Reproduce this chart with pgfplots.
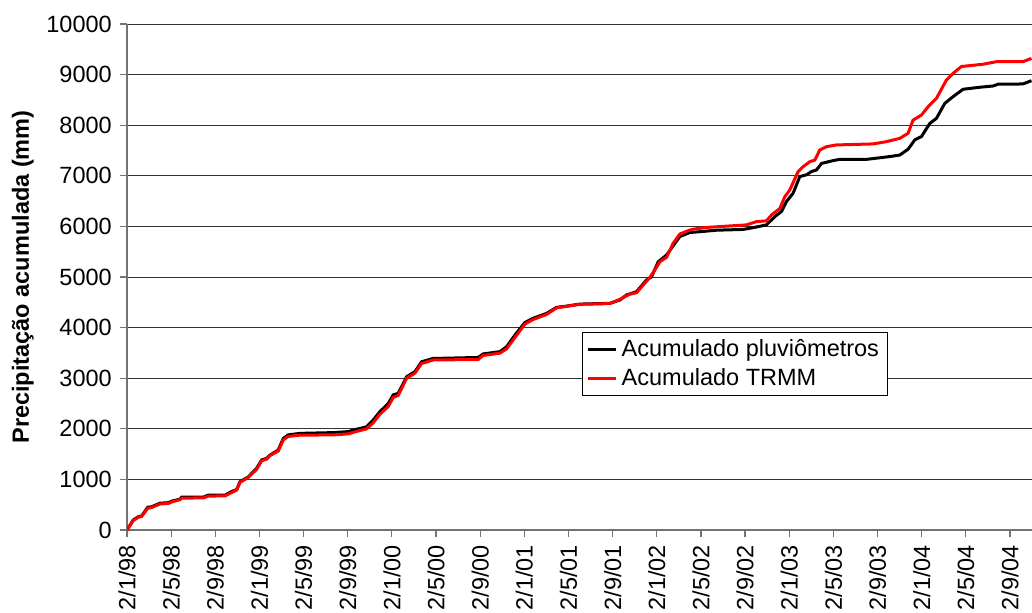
\documentclass[border=0pt]{standalone}
\usepackage{fontspec}
\setmainfont{Liberation Sans}
\usepackage{pgfplots}
\pgfplotsset{compat=1.18}
\usepackage{pgfplotstable}

% x = months since 2/1/98, y = accumulated rainfall (mm)
\pgfplotstableread{
m     v
0.00  0
0.57  200
1.02  260
1.33  280
1.88  450
2.24  460
2.99  530
3.74  540
4.05  570
4.80  610
4.95  650
6.91  650
7.36  690
8.88  690
9.48  760
9.94  800
10.24 955
10.99 1050
11.75 1220
12.20 1385
12.65 1415
12.95 1480
13.70 1580
14.16 1810
14.61 1880
15.67 1910
18.69 1925
20.05 1945
20.50 1975
21.71 2040
22.31 2175
22.92 2340
23.67 2500
24.12 2670
24.57 2700
25.34 3030
26.09 3130
26.69 3325
27.74 3390
31.82 3410
32.27 3480
33.79 3525
34.39 3620
35.14 3850
36.05 4100
36.80 4185
38.01 4280
38.92 4400
39.83 4425
41.03 4465
43.75 4480
44.66 4545
45.26 4645
46.17 4710
47.07 4940
47.53 5005
48.13 5300
48.89 5435
50.09 5800
51.00 5880
51.90 5895
53.41 5925
55.82 5940
56.73 5975
57.94 6030
58.70 6195
59.30 6295
59.75 6490
60.35 6655
60.96 6985
61.57 7020
62.02 7085
62.47 7115
62.93 7245
63.97 7300
64.58 7325
67.00 7325
69.11 7380
70.02 7410
70.77 7525
71.38 7710
71.98 7775
72.74 8035
73.34 8135
74.09 8430
74.85 8565
75.75 8710
77.26 8750
78.47 8775
78.92 8810
81.18 8815
81.95 8880
}\pluvio

\pgfplotstableread{
m     v
0.00  0
0.57  190
1.02  250
1.33  270
1.88  430
2.24  445
2.99  515
3.74  525
4.05  555
4.80  600
4.95  630
6.91  635
7.36  670
8.88  675
9.48  740
9.94  790
10.24 940
10.99 1040
11.75 1200
12.20 1370
12.65 1400
12.95 1470
13.70 1560
14.16 1780
14.61 1850
15.67 1875
18.69 1880
20.05 1900
20.50 1930
21.71 2000
22.31 2120
22.92 2290
23.67 2440
24.12 2620
24.57 2660
25.34 3000
26.09 3100
26.69 3290
27.74 3360
31.82 3370
32.27 3450
33.79 3495
34.39 3580
35.14 3800
36.05 4070
36.80 4160
38.01 4260
38.92 4390
39.83 4420
41.03 4460
43.75 4475
44.66 4560
45.56 4660
46.17 4690
46.77 4840
47.37 4990
47.83 5140
48.28 5300
48.89 5390
49.48 5665
50.09 5850
50.84 5915
51.30 5945
52.51 5980
56.13 6030
57.04 6095
57.94 6110
58.39 6225
59.15 6355
59.60 6585
60.05 6720
60.81 7085
61.26 7180
61.87 7280
62.32 7310
62.77 7510
63.37 7575
64.28 7610
67.60 7630
68.81 7675
70.02 7740
70.77 7840
71.22 8100
71.98 8200
72.58 8365
73.34 8530
74.25 8895
74.85 9025
75.61 9160
77.56 9205
78.77 9255
81.18 9255
81.95 9320
}\trmm

\begin{document}
\fontsize{11.75}{14}\selectfont
\begin{tikzpicture}
\begin{axis}[
    scale only axis,
    width=452.5pt, height=253pt,
    xmin=0, xmax=82,
    ymin=0, ymax=10000,
    axis x line*=bottom,
    axis y line*=left,
    axis line style={draw=black!55, line width=0.6pt},
    tick align=outside,
    major tick length=3.5pt,
    tick style={draw=black!55, line width=0.6pt},
    xtick={0,4,...,80},
    xticklabels={2/1/98,2/5/98,2/9/98,2/1/99,2/5/99,2/9/99,2/1/00,2/5/00,2/9/00,
                 2/1/01,2/5/01,2/9/01,2/1/02,2/5/02,2/9/02,2/1/03,2/5/03,2/9/03,
                 2/1/04,2/5/04,2/9/04},
    xticklabel style={rotate=90, anchor=east, font=\fontsize{11.75}{14}\selectfont},
    ytick={0,1000,...,10000},
    scaled y ticks=false,
    yticklabel style={font=\fontsize{11.75}{14}\selectfont,
        /pgf/number format/fixed, /pgf/number format/1000 sep={}},
    /pgf/number format/assume math mode=true,
    ymajorgrids=true,
    grid style={draw=black!80, line width=0.5pt},
    ylabel={Precipitação acumulada (mm)},
    every axis y label/.style={at={(axis description cs:-0.115,0.5)}, rotate=90, anchor=center,
        font=\fontsize{11.75}{14}\selectfont\bfseries},
    legend style={at={(rel axis cs:0.503,0.391)}, anchor=north west,
        draw=black, line width=0.5pt, fill=white,
        font=\fontsize{11.75}{14}\selectfont,
        inner xsep=2pt, inner ysep=1.5pt, row sep=0pt},
    legend cell align=left,
    legend image code/.code={\draw[#1, line width=1.5pt] (0pt,0pt) -- (14pt,0pt);},
]
\addplot[black, line width=1.5pt] table[x=m, y=v] {\pluvio};
\addplot[red, line width=1.5pt] table[x=m, y=v] {\trmm};
\legend{Acumulado pluviômetros, Acumulado TRMM}
\end{axis}
\pgfresetboundingbox
\path[use as bounding box] ([xshift=-63.5pt,yshift=-41pt]current axis.south west)
    rectangle ([yshift=12pt]current axis.north east);
\end{tikzpicture}
\end{document}
